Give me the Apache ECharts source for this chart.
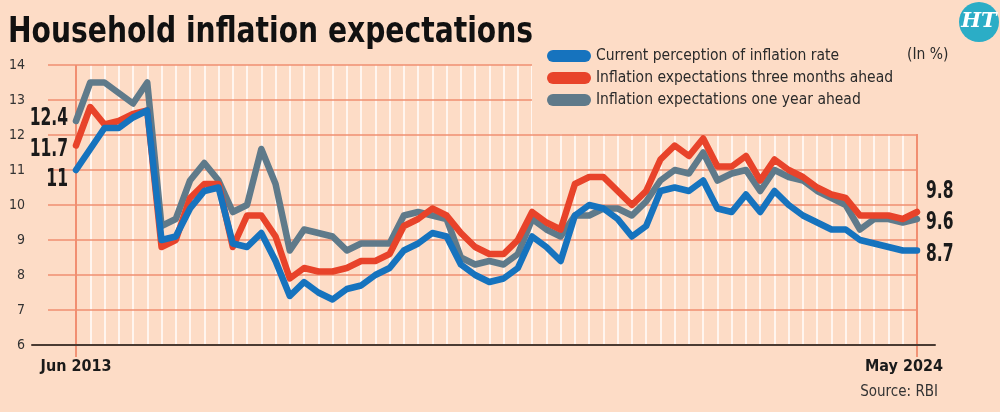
<!DOCTYPE html>
<html><head><meta charset="utf-8">
<script src="https://cdn.jsdelivr.net/npm/echarts@6/dist/echarts.min.js"></script>
<style>html,body{margin:0;padding:0;background:#fddcc6}#c{width:1000px;height:412px}</style>
</head><body><div id="c"></div>
<script>
const categories = [
  "Jun 2013","Sep 2013","Dec 2013","Mar 2014","Jun 2014","Sep 2014","Dec 2014","Mar 2015","Jun 2015","Sep 2015",
  "Dec 2015","Mar 2016","Jun 2016","Sep 2016","Nov 2016","Jan 2017","Mar 2017","May 2017","Jul 2017","Sep 2017",
  "Nov 2017","Jan 2018","Mar 2018","May 2018","Jul 2018","Sep 2018","Nov 2018","Jan 2019","Mar 2019","May 2019",
  "Jul 2019","Sep 2019","Nov 2019","Jan 2020","Mar 2020","May 2020","Jul 2020","Sep 2020","Nov 2020","Jan 2021",
  "Mar 2021","May 2021","Jul 2021","Sep 2021","Nov 2021","Jan 2022","Mar 2022","May 2022","Jul 2022","Sep 2022",
  "Nov 2022","Jan 2023","Mar 2023","May 2023","Jul 2023","Sep 2023","Nov 2023","Jan 2024","Mar 2024","May 2024"
];
const currentPerception = [
  11.0,11.6,12.2,12.2,12.5,12.7,9.0,9.1,9.9,10.4,
  10.5,8.9,8.8,9.2,8.4,7.4,7.8,7.5,7.3,7.6,
  7.7,8.0,8.2,8.7,8.9,9.2,9.1,8.3,8.0,7.8,
  7.9,8.2,9.1,8.8,8.4,9.7,10.0,9.9,9.6,9.1,
  9.4,10.4,10.5,10.4,10.7,9.9,9.8,10.3,9.8,10.4,
  10.0,9.7,9.5,9.3,9.3,9.0,8.9,8.8,8.7,8.7
];
const threeMonthsAhead = [
  11.7,12.8,12.3,12.4,12.6,12.7,8.8,9.0,10.2,10.6,
  10.6,8.8,9.7,9.7,9.1,7.9,8.2,8.1,8.1,8.2,
  8.4,8.4,8.6,9.4,9.6,9.9,9.7,9.2,8.8,8.6,
  8.6,9.0,9.8,9.5,9.3,10.6,10.8,10.8,10.4,10.0,
  10.4,11.3,11.7,11.4,11.9,11.1,11.1,11.4,10.7,11.3,
  11.0,10.8,10.5,10.3,10.2,9.7,9.7,9.7,9.6,9.8
];
const oneYearAhead = [
  12.4,13.5,13.5,13.2,12.9,13.5,9.4,9.6,10.7,11.2,
  10.7,9.8,10.0,11.6,10.6,8.7,9.3,9.2,9.1,8.7,
  8.9,8.9,8.9,9.7,9.8,9.7,9.6,8.5,8.3,8.4,
  8.3,8.6,9.6,9.3,9.1,9.7,9.7,9.9,9.9,9.7,
  10.1,10.7,11.0,10.9,11.5,10.7,10.9,11.0,10.4,11.0,
  10.8,10.7,10.4,10.2,10.0,9.3,9.6,9.6,9.5,9.6
];
const seriesNames = [
  "Current perception of inflation rate",
  "Inflation expectations three months ahead",
  "Inflation expectations one year ahead"
];
const yMin = 6, yMax = 14, yStep = 1;
const titleText = "Household inflation expectations";
const unitText = "(In %)";
const sourceText = "Source: RBI";

const FONT = "'DejaVu Sans Condensed','Liberation Sans Narrow',sans-serif";
const BG = '#fddcc6', GRIDC = '#ef8f70', ENDC = '#ee7b5c';
const BLUE = '#1673be', RED = '#e8432a', GRAY = '#5f7a8a';
const last = categories.length - 1;

function lineSeries(name, arr, color, z) {
  return {
    name, type: 'line', xAxisIndex: 1, yAxisIndex: 1, data: arr,
    showSymbol: false, symbol: 'none', z, animation: false,
    lineStyle: { color, width: 6.5, cap: 'round', join: 'round' },
    itemStyle: { color },
    emphasis: { disabled: true }
  };
}
const splitColors = categories.map((_, i) => (i === 0 || i === last) ? ENDC : 'rgba(255,255,255,0.9)');
const pill = 'path://M6,0 L38,0 A6,6 0 0 1 38,12 L6,12 A6,6 0 0 1 6,0 Z';

const baseGraphics = [
  { id: 'cover', type: 'rect', z: 2, shape: { x: 532, y: 0, width: 468, height: 134 }, style: { fill: BG } },
  { id: 'title', type: 'text', z: 10, x: 8, y: 15, scaleX: 0.87, style: { text: titleText, font: "bold 36px " + FONT, fill: '#111', align: 'left', verticalAlign: 'top' } },
  { id: 'unit', type: 'text', z: 10, x: 907, y: 47, style: { text: unitText, font: "15.5px " + FONT, fill: '#2a2a2a', align: 'left', verticalAlign: 'top' } },
  { id: 'source', type: 'text', z: 10, x: 938, y: 385, style: { text: sourceText, font: "15px " + FONT, fill: '#333', align: 'right', verticalAlign: 'top' } },
  { id: 'logo', type: 'circle', z: 10, shape: { cx: 979, cy: 22, r: 20 }, style: { fill: '#2badc6' } },
  { id: 'logoText', type: 'text', z: 11, x: 979, y: 22, style: { text: 'HT', font: "italic bold 21px 'DejaVu Serif', serif", fill: '#fff', align: 'center', verticalAlign: 'middle' } }
];

const chart = echarts.init(document.getElementById('c'), null, { renderer: 'canvas' });
chart.setOption({
  backgroundColor: BG,
  animation: false,
  legend: {
    orient: 'vertical', left: 542, top: 41, z: 10, itemWidth: 44, itemHeight: 12, itemGap: 2,
    icon: pill, data: seriesNames, selectedMode: false,
    textStyle: { fontFamily: FONT, fontSize: 15.5, color: '#2a2a2a', lineHeight: 20 }
  },
  grid: [
    { left: 48, right: 84, top: 65, bottom: 67 },
    { left: 76, right: 83, top: 65, bottom: 67 },
    { left: 32, right: 65, top: 65, bottom: 67 }
  ],
  xAxis: [
    { gridIndex: 0, type: 'value', min: 0, max: 1, show: false },
    { gridIndex: 1, type: 'category', data: categories, boundaryGap: false, z: 0,
      axisLine: { show: false },
      axisTick: { show: true, interval: (i) => i === 0 || i === last, length: 12, lineStyle: { color: ENDC, width: 1.5 } },
      axisLabel: { show: true, interval: (i) => i === 0 || i === last, margin: 14,
        formatter: (v, i) => i === 0 ? '{a|' + v + '}' : '{b|' + v + '}',
        rich: {
          a: { fontFamily: FONT, fontWeight: 'bold', fontSize: 16, color: '#1a1a1a' },
          b: { fontFamily: FONT, fontWeight: 'bold', fontSize: 16, color: '#1a1a1a', padding: [0, 26, 0, 0] }
        } },
      splitLine: { show: true, interval: 0, lineStyle: { color: splitColors, width: 1.6 } } },
    { gridIndex: 2, type: 'value', min: 0, max: 1, z: 3,
      axisLine: { show: true, onZero: false, lineStyle: { color: '#4a3b32', width: 2 } },
      axisTick: { show: false }, axisLabel: { show: false }, splitLine: { show: false } }
  ],
  yAxis: [
    { gridIndex: 0, type: 'value', min: yMin, max: yMax, interval: yStep, z: 1,
      axisLine: { show: false }, axisTick: { show: false },
      axisLabel: { margin: 23, fontFamily: FONT, fontSize: 14, color: '#333' },
      splitLine: { lineStyle: { color: GRIDC, width: 1.5 } } },
    { gridIndex: 1, type: 'value', min: yMin, max: yMax, interval: yStep, show: false, splitLine: { show: false } },
    { gridIndex: 2, type: 'value', min: yMin, max: yMax, interval: yStep, show: false, splitLine: { show: false } }
  ],
  graphic: { elements: baseGraphics },
  series: [
    lineSeries(seriesNames[0], currentPerception, BLUE, 5),
    lineSeries(seriesNames[1], threeMonthsAhead, RED, 4),
    lineSeries(seriesNames[2], oneYearAhead, GRAY, 3)
  ]
});

// Start / end value labels placed through the chart's own scales
const labelSpecs = [
  { arr: currentPerception, dyStart: 10, dyEnd: 4 },
  { arr: threeMonthsAhead, dyStart: 4, dyEnd: -20 },
  { arr: oneYearAhead, dyStart: -2, dyEnd: 4 }
];
const valueLabels = [];
labelSpecs.forEach((s, k) => {
  const p0 = chart.convertToPixel({ xAxisIndex: 1, yAxisIndex: 1 }, [0, s.arr[0]]);
  const p1 = chart.convertToPixel({ xAxisIndex: 1, yAxisIndex: 1 }, [last, s.arr[last]]);
  valueLabels.push({ id: 'start' + k, type: 'text', z: 10, x: p0[0] - 8, y: p0[1] + s.dyStart, scaleX: 0.72,
    style: { text: String(s.arr[0]), font: "bold 24px " + FONT, fill: '#1a1a1a', align: 'right', verticalAlign: 'middle' } });
  valueLabels.push({ id: 'end' + k, type: 'text', z: 10, x: p1[0] + 9, y: p1[1] + s.dyEnd, scaleX: 0.72,
    style: { text: String(s.arr[last]), font: "bold 24px " + FONT, fill: '#1a1a1a', align: 'left', verticalAlign: 'middle' } });
});
chart.setOption({ graphic: { elements: baseGraphics.concat(valueLabels) } });
</script>
</body></html>
